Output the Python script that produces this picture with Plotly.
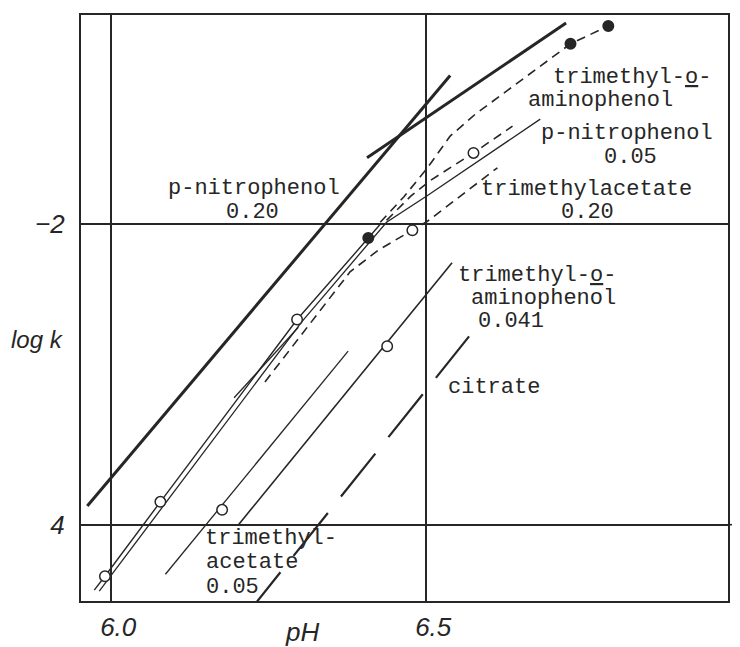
import plotly.graph_objects as go

INK = "#262626"

# ---------------- data (pH, log k) ----------------
# p-nitrophenol 0.20 (thick solid, two branches)
pnp020_ph = [5.962, 6.538]
pnp020_logk = [-3.875, -1.010]
pnp020_hi_ph = [6.406, 6.722]
pnp020_hi_logk = [-1.558, -0.660]

# trimethyl-o-aminophenol (solid lower part, dashed upper part)
toap_ph = [5.973, 5.990, 6.078, 6.295, 6.408, 6.427]
toap_logk = [-4.436, -4.343, -3.848, -2.634, -2.092, -2.000]
toap_dash_ph = [6.427, 6.465, 6.502, 6.538, 6.578, 6.729, 6.789]
toap_dash_logk = [-1.987, -1.815, -1.624, -1.413, -1.267, -0.799, -0.680]
toap_open_ph = [5.990, 6.078, 6.295]
toap_open_logk = [-4.343, -3.848, -2.634]
toap_filled_ph = [6.408, 6.729, 6.789]
toap_filled_logk = [-2.092, -0.799, -0.680]

# p-nitrophenol 0.05 (thin solid + dashed branch)
pnp005_ph = [5.981, 6.086, 6.303, 6.437, 6.502, 6.681]
pnp005_logk = [-4.442, -3.855, -2.647, -1.987, -1.809, -1.300]
pnp005_dash_ph = [6.437, 6.475, 6.506, 6.575, 6.637]
pnp005_dash_logk = [-1.974, -1.815, -1.710, -1.525, -1.347]
pnp005_open_ph = [6.575]
pnp005_open_logk = [-1.525]

# trimethylacetate 0.20 (dashed)
tma020_ph = [6.244, 6.337, 6.379, 6.424, 6.478, 6.502, 6.613]
tma020_logk = [-3.050, -2.548, -2.317, -2.172, -2.040, -1.980, -1.624]
tma020_open_ph = [6.478]
tma020_open_logk = [-2.040]

# short thin segment
short_ph = [6.195, 6.297]
short_logk = [-3.155, -2.686]

# trimethylacetate 0.05
tma005_ph = [6.086, 6.376]
tma005_logk = [-4.330, -2.845]
tma005_open_ph = [6.176]
tma005_open_logk = [-3.901]

# trimethyl-o-aminophenol 0.041
toap0041_ph = [6.202, 6.541]
toap0041_logk = [-4.000, -2.257]
toap0041_open_ph = [6.438]
toap0041_open_logk = [-2.812]

# citrate (long dashes)
citrate_ph = [6.214, 6.568]
citrate_logk = [-4.603, -2.746]

x_ticks = [6.0, 6.5]
x_ticktext = ["6.0", "6.5"]
y_ticks = [-2, -4]
y_ticktext = ["\u22122", "4"]

# ---------------- figure ----------------
fig = go.Figure()

def line(x, y, width, dash="solid"):
    fig.add_trace(go.Scatter(x=x, y=y, mode="lines",
                             line=dict(color=INK, width=width, dash=dash),
                             hoverinfo="skip", showlegend=False))

def marks(x, y, filled):
    fig.add_trace(go.Scatter(x=x, y=y, mode="markers",
                             marker=dict(size=10.5, symbol="circle",
                                         color=INK if filled else "white",
                                         line=dict(color=INK, width=1.5)),
                             hoverinfo="skip", showlegend=False))

SHORT_DASH = "9px,6px"

line(pnp020_ph, pnp020_logk, 3)
line(pnp020_hi_ph, pnp020_hi_logk, 3)
line(toap_ph, toap_logk, 1.4)
line(toap_dash_ph, toap_dash_logk, 1.6, SHORT_DASH)
line(pnp005_ph, pnp005_logk, 1.3)
line(pnp005_dash_ph, pnp005_dash_logk, 1.6, SHORT_DASH)
line(tma020_ph, tma020_logk, 1.6, SHORT_DASH)
line(short_ph, short_logk, 1.3)
line(tma005_ph, tma005_logk, 1.3)
line(toap0041_ph, toap0041_logk, 1.6)
line(citrate_ph, citrate_logk, 2.2, "55px,21px")

marks(toap_open_ph, toap_open_logk, False)
marks(toap_filled_ph, toap_filled_logk, True)
marks(pnp005_open_ph, pnp005_open_logk, False)
marks(tma020_open_ph, tma020_open_logk, False)
marks(tma005_open_ph, tma005_open_logk, False)
marks(toap0041_open_ph, toap0041_open_logk, False)

MONO = dict(family="Liberation Mono", size=22, color=INK)
labels = [
    ("p-nitrophenol", 6.227, -1.762),
    ("0.20", 6.225, -1.921),
    ("trimethyl-<u>o</u>-", 6.827, -1.023),
    ("aminophenol", 6.776, -1.175),
    ("p-nitrophenol", 6.819, -1.399),
    ("0.05", 6.824, -1.558),
    ("trimethylacetate", 6.754, -1.769),
    ("0.20", 6.756, -1.921),
    ("trimethyl-<u>o</u>-", 6.676, -2.343),
    ("aminophenol", 6.686, -2.495),
    ("0.041", 6.635, -2.647),
    ("citrate", 6.608, -3.089),
    ("trimethyl-", 6.254, -4.092),
    ("acetate", 6.224, -4.251),
    ("0.05", 6.192, -4.416),
]
for txt, x, y in labels:
    fig.add_annotation(x=x, y=y, text=txt, showarrow=False, font=MONO,
                       xanchor="center", yanchor="middle")

ITAL = dict(family="Liberation Sans", size=26, color=INK, style="italic")
fig.add_annotation(xref="paper", yref="paper", x=0.3416, y=-0.0525, text="pH",
                   showarrow=False, font=ITAL, xanchor="center", yanchor="middle")
fig.add_annotation(xref="paper", yref="paper", x=-0.068, y=0.4467, text="log k",
                   showarrow=False, font=dict(ITAL, size=24),
                   xanchor="center", yanchor="middle")

# -4 line runs past the right frame
fig.add_shape(type="line", xref="paper", yref="y", x0=1.0, x1=1.03, y0=-4, y1=-4,
              line=dict(color=INK, width=1.6), layer="above")

fig.update_xaxes(range=[5.952, 6.979], tickvals=x_ticks, ticktext=x_ticktext,
                 showgrid=True, gridcolor=INK, gridwidth=1.6, zeroline=False,
                 showline=True, mirror=True, linecolor=INK, linewidth=2,
                 ticks="", tickfont=ITAL, ticklabelshift=7, ticklabelstandoff=2)
fig.update_yaxes(range=[-4.508, -0.607], tickvals=y_ticks, ticktext=y_ticktext,
                 showgrid=True, gridcolor=INK, gridwidth=1.6, zeroline=False,
                 showline=True, mirror=True, linecolor=INK, linewidth=2,
                 ticks="", tickfont=ITAL, ticklabelstandoff=9)

# the page body adds an 8px margin, so the figure is 8px smaller than the window
fig.update_layout(width=732, height=639, autosize=False,
                  margin=dict(l=73, r=12, t=5, b=43),
                  paper_bgcolor="white", plot_bgcolor="white",
                  showlegend=False)

fig.write_html("out.html")
